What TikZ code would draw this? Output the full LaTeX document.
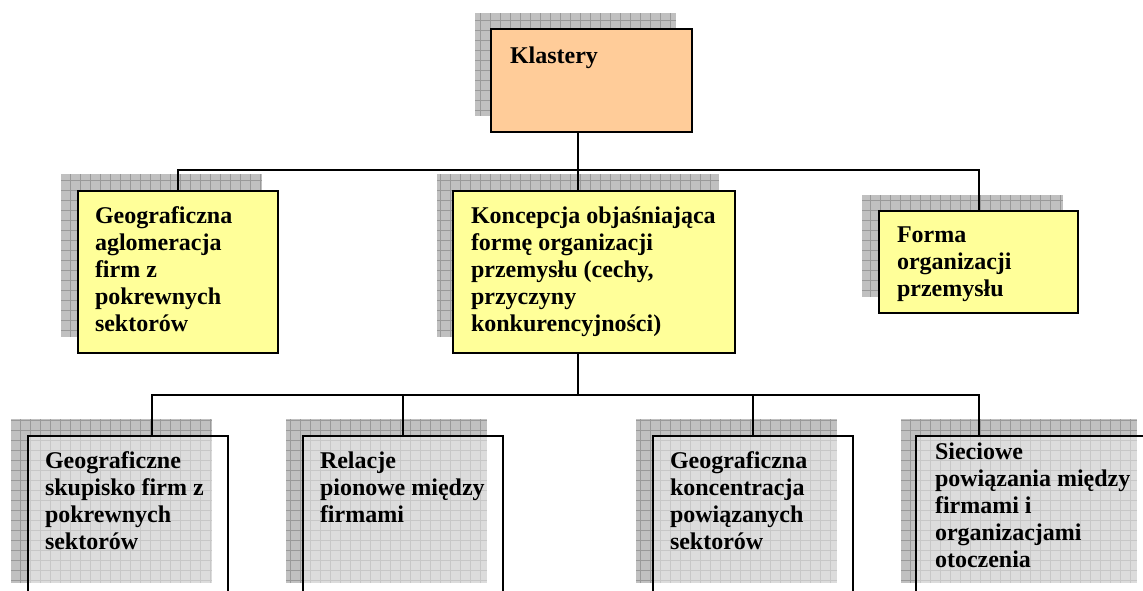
\documentclass[tikz,border=0pt]{standalone}
\usepackage{fontspec}
\setmainfont{Liberation Serif}
\definecolor{peach}{HTML}{FFCC99}
\definecolor{paleyellow}{HTML}{FFFF99}
\definecolor{shadowgray}{HTML}{C0C0C0}
\definecolor{gridgray}{HTML}{999999}
\begin{document}
\begin{tikzpicture}[x=1pt,y=-1pt,
  every node/.style={inner sep=0pt,outer sep=0pt},
  box/.style={draw=black,line width=2pt,rectangle,anchor=north west},
  lowbox/.style={box,fill=white,fill opacity=0.45,minimum width=200pt,minimum height=180pt},
  boxtext/.style={anchor=north west,align=left,font=\bfseries\fontsize{24}{27}\selectfont},
  link/.style={line width=2pt}]
\useasboundingbox (0,0) rectangle (1143,591);
\clip (0,0) rectangle (1143,591);

% grid shadows
\foreach \xa/\ya/\xb/\yb in {475/13/676/116, 61/174/262/337, 437/174/719/337, 862/195/1063/297,
  11/419/212/583, 286/419/487/583, 636/419/837/583, 901/419/1137/583}{
  \begin{scope}
    \clip (\xa,\ya) rectangle (\xb,\yb);
    \fill[shadowgray] (\xa,\ya) rectangle (\xb,\yb);
    \draw[gridgray,line width=0.8pt,step=10pt] (\xa,\ya) grid (\xb,\yb);
  \end{scope}
}

% boxes
\node[box,fill=peach,minimum width=201pt,minimum height=103pt] (klastery) at (491,29) {};
\node[box,fill=paleyellow,minimum width=200pt,minimum height=162pt] (aglo) at (78,191) {};
\node[box,fill=paleyellow,minimum width=282pt,minimum height=162pt] (koncepcja) at (453,191) {};
\node[box,fill=paleyellow,minimum width=199pt,minimum height=102pt] (forma) at (879,211) {};
\node[lowbox] (skupisko) at (28,436) {};
\node[lowbox] (relacje) at (303,436) {};
\node[lowbox] (koncentracja) at (653,436) {};
\node[lowbox,minimum width=237pt] (sieciowe) at (916,436) {};

% connectors
\coordinate (bus1) at (578,170);
\coordinate (bus2) at (578,395);
\draw[link] (bus1 |- klastery.south) -- (bus1);
\draw[link] (aglo.north) |- (bus1) -| (forma.north);
\draw[link] (bus1) -- (bus1 |- koncepcja.north);
\draw[link] (bus2 |- koncepcja.south) -- (bus2);
\draw[link] ([xshift=24pt]skupisko.north) |- (bus2) -| ([xshift=-56pt]sieciowe.north);
\draw[link] (relacje.north) -- (relacje.north |- bus2);
\draw[link] (koncentracja.north) -- (koncentracja.north |- bus2);

% texts
\node[boxtext] (klastery-t) at ([shift={(19,18)}]klastery.north west) {Klastery};
\node[boxtext] (aglo-t) at ([shift={(17,16)}]aglo.north west)
  {Geograficzna\\aglomeracja\\firm z\\pokrewnych\\sektorów};
\node[boxtext] (koncepcja-t) at ([shift={(18,16)}]koncepcja.north west)
  {Koncepcja objaśniająca\\formę organizacji\\przemysłu (cechy,\\przyczyny\\konkurencyjności)};
\node[boxtext] (forma-t) at ([shift={(18,16)}]forma.north west)
  {Forma\\organizacji\\przemysłu};
\node[boxtext] (skupisko-t) at ([shift={(17,16)}]skupisko.north west)
  {Geograficzne\\skupisko firm z\\pokrewnych\\sektorów};
\node[boxtext] (relacje-t) at ([shift={(17,16)}]relacje.north west)
  {Relacje\\pionowe między\\firmami};
\node[boxtext] (koncentracja-t) at ([shift={(17,16)}]koncentracja.north west)
  {Geograficzna\\koncentracja\\powiązanych\\sektorów};
\node[boxtext] (sieciowe-t) at ([shift={(19,7)}]sieciowe.north west)
  {Sieciowe\\powiązania między\\firmami i\\organizacjami\\otoczenia};
\end{tikzpicture}
\end{document}
